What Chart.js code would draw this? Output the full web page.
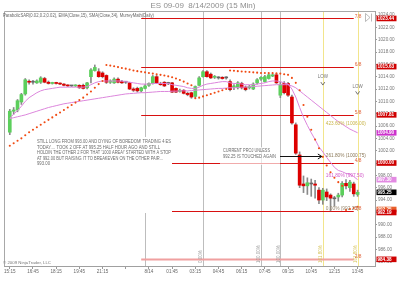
<!DOCTYPE html>
<html>
<head>
<meta charset="utf-8">
<script src="https://cdn.jsdelivr.net/npm/chart.js@4/dist/chart.umd.min.js"></script>
<style>
  html, body { margin: 0; padding: 0; background: #fff; }
  #wrap { width: 400px; height: 283px; }
</style>
</head>
<body>
<div id="wrap"><canvas id="c" width="400" height="283"></canvas></div>
<script>
// ES 09-09, 15-minute bars from 15:15 (8/13) to 13:45 (8/14)
const firstBar = '15:15';
const opens = [
  1005.0,1008.4,1008.6,1009.9,1011.2,1013.2,1013.1,1013.0,1013.1,1013.7,
  1013.1,1012.9,1013.0,1012.9,1012.8,1012.6,1012.5,1012.5,1012.6,1012.6,
  1012.2,1014.0,1015.0,1014.8,1014.6,1014.2,1013.1,1013.0,1013.6,1013.2,
  1013.1,1013.0,1012.0,1012.1,1011.7,1012.1,1012.6,1012.9,1014.0,1012.9,
  1013.1,1012.9,1013.0,1012.1,1011.6,1011.8,1011.3,1011.4,1010.8,1012.6,
  1014.0,1014.8,1014.4,1013.9,1013.8,1013.9,1013.8,1013.2,1012.3,1012.2,
  1012.9,1012.3,1012.2,1012.0,1013.0,1013.6,1013.2,1013.7,1014.1,1014.3,
  1011.0,1012.9,1012.9,1010.7,1006.2,1001.3,996.6,996.3,996.6,996.6,
  995.6,994.0,995.3,994.8,994.2,994.5,994.8,996.7,996.0,996.6,
  994.9
];
const highs = [
  1008.7,1009.0,1010.3,1011.3,1013.7,1013.5,1013.4,1013.5,1014.0,1013.9,
  1013.3,1013.1,1013.1,1013.0,1012.9,1012.7,1012.6,1012.7,1012.7,1012.8,
  1013.1,1015.3,1015.9,1015.3,1014.8,1014.3,1013.5,1013.8,1013.8,1013.4,
  1013.2,1013.1,1012.2,1012.3,1012.3,1012.7,1013.0,1014.2,1014.2,1013.1,
  1013.2,1013.1,1013.1,1012.2,1012.0,1011.9,1011.5,1011.5,1012.5,1014.0,
  1015.0,1015.0,1014.6,1014.2,1014.0,1014.0,1014.0,1013.5,1012.7,1013.2,
  1013.1,1012.5,1012.6,1013.0,1013.7,1014.0,1014.2,1014.5,1014.5,1014.5,
  1013.1,1013.2,1013.1,1011.0,1006.5,1001.8,997.9,997.6,997.4,997.2,
  996.0,995.9,995.8,995.0,994.6,995.1,997.0,997.3,997.2,996.9,
  995.6
];
const lows = [
  1004.6,1007.9,1008.3,1009.5,1011.0,1012.8,1012.8,1012.9,1012.9,1013.0,
  1012.8,1012.8,1012.8,1012.7,1012.5,1012.4,1012.4,1012.4,1012.1,1012.0,
  1012.0,1013.0,1014.9,1013.9,1013.8,1012.9,1012.9,1012.9,1013.0,1012.9,
  1012.9,1011.9,1011.6,1011.5,1011.5,1012.0,1012.4,1012.8,1012.9,1012.6,
  1012.4,1012.7,1011.4,1011.4,1011.5,1011.2,1010.9,1010.5,1010.6,1012.5,
  1013.9,1013.9,1013.7,1013.7,1013.6,1013.6,1013.6,1011.7,1011.9,1012.0,
  1012.0,1011.7,1012.0,1011.9,1012.8,1013.4,1013.1,1013.6,1014.0,1012.9,
  1010.6,1011.2,1010.8,1006.3,1001.4,996.0,995.2,994.9,994.6,994.3,
  993.4,993.3,993.9,992.25,993.0,993.8,994.5,995.8,995.4,994.6,
  994.6
];
const closes = [
  1008.4,1008.6,1010.1,1011.1,1013.5,1013.1,1013.1,1013.3,1013.8,1013.1,
  1012.9,1013.0,1012.9,1012.8,1012.6,1012.5,1012.5,1012.6,1012.2,1012.1,
  1013.0,1015.1,1015.5,1014.0,1014.0,1013.1,1013.3,1013.6,1013.1,1013.0,
  1013.1,1012.0,1011.8,1011.7,1012.2,1012.5,1012.9,1014.0,1013.0,1012.7,
  1012.5,1012.9,1011.5,1011.5,1011.8,1011.3,1011.1,1010.7,1012.4,1013.8,
  1014.8,1014.0,1013.8,1014.0,1013.8,1013.7,1013.8,1011.9,1012.5,1013.0,
  1012.2,1011.9,1012.4,1012.8,1013.5,1013.9,1014.0,1014.3,1014.3,1013.0,
  1012.7,1011.4,1011.0,1006.5,1001.6,996.4,996.3,996.8,996.6,996.4,
  994.0,995.6,994.5,994.3,994.2,994.8,996.7,996.3,996.9,995.0,
  995.25
];
// EMA(Close,15)
const emaValues = [
  1007.3,1007.9,1008.5,1009.2,1010.0,1010.6,1011.0,1011.4,1011.7,1011.9,
  1012.0,1012.1,1012.2,1012.3,1012.3,1012.3,1012.3,1012.3,1012.3,1012.3,
  1012.4,1012.7,1013.0,1013.2,1013.3,1013.3,1013.3,1013.3,1013.3,1013.3,
  1013.2,1013.1,1013.0,1012.9,1012.8,1012.8,1012.8,1012.9,1012.9,1012.9,
  1012.9,1012.9,1012.7,1012.6,1012.5,1012.4,1012.2,1012.1,1012.1,1012.3,
  1012.6,1012.8,1012.9,1013.0,1013.1,1013.2,1013.2,1013.0,1012.9,1012.9,
  1012.8,1012.7,1012.7,1012.7,1012.8,1012.9,1013.0,1013.2,1013.3,1013.3,
  1013.2,1013.0,1012.8,1012.0,1010.7,1009.0,1007.4,1006.1,1004.9,1003.8,
  1002.6,1001.8,1000.9,1000.1,999.3,998.8,998.6,998.3,998.2,997.8,
  997.3
];
// SMA(Close,34)
const smaValues = [
  1007.2,1007.35,1007.5,1007.65,1007.8,1008.0,1008.2,1008.4,1008.6,1008.8,
  1009.0,1009.15,1009.3,1009.45,1009.6,1009.7,1009.8,1009.9,1010.0,1010.1,
  1010.2,1010.3,1010.4,1010.5,1010.6,1010.7,1010.8,1010.9,1011.0,1011.1,
  1011.2,1011.25,1011.3,1011.35,1011.4,1011.4,1011.45,1011.5,1011.55,1011.6,
  1011.6,1011.6,1011.65,1011.65,1011.7,1011.7,1011.7,1011.75,1011.8,1011.85,
  1011.9,1011.95,1012.0,1012.05,1012.1,1012.1,1012.15,1012.2,1012.2,1012.25,
  1012.3,1012.3,1012.35,1012.4,1012.45,1012.5,1012.55,1012.6,1012.65,1012.7,
  1012.7,1012.7,1012.7,1012.5,1012.2,1011.7,1011.2,1010.7,1010.2,1009.7,
  1009.2,1008.7,1008.2,1007.7,1007.2,1006.7,1006.3,1005.9,1005.5,1005.2,
  1004.9
];
// ParabolicSAR(0.02,0.2,0.02)
const sarValues = [
  1002.8,1003.2,1003.6,1004.0,1004.5,1005.0,1005.4,1005.8,1006.2,1006.6,
  1007.0,1007.4,1007.8,1008.2,1008.6,1009.0,1009.4,1009.8,1010.2,1010.6,
  1011.1,1011.6,1012.2,1012.8,1013.3,1015.9,1015.8,1015.7,1015.55,1015.4,
  1015.3,1015.15,1015.0,1014.9,1014.8,1014.7,1014.6,1014.5,1014.4,1014.3,
  1014.2,1014.05,1013.9,1013.7,1013.45,1013.2,1012.9,1012.6,1010.5,1010.6,
  1010.8,1011.0,1011.2,1011.4,1011.6,1011.8,1012.0,1015.0,1014.95,1014.9,
  1014.85,1014.8,1014.75,1014.7,1014.65,1014.6,1014.6,1014.6,1014.6,1014.55,
  1014.5,1014.4,1014.3,1013.8,1013.0,1011.8,1009.4,1007.5,1005.4,1003.8,
  1002.4,1001.0,999.6,998.5,997.6,996.9,996.3,992.4,992.55,992.7,
  992.9
];

// MurreyMath(Daily) levels
const murreyLevels = [1023.44, 1015.63, 1007.81, 1000.00, 992.19, 984.38];
const murreyNames  = ['7/8', '6/8', '5/8', '4/8', '3/8', '2/8'];
const murreyFrom = '23:45', murreyTo = '13:30';

// Fibonacci price extension levels
const fibLevels = [1006.00, 1000.75, 997.50, 992.25];
const fibNames  = ['423.60%', '261.80%', '161.80%', '0.00%'];
const fibAt = '11:30';

// time markers
const dayBreak = '00:00';
const fibTimeGray = ['03:45', '07:30', '08:45'];
const fibTimeGrayNames = ['0.00%', '100.00%', '100.00%'];
const fibTimeGold = ['11:30', '13:45'];
const fibTimeGoldNames = ['161.80%', '161.80%'];

// swing low markers
const lowMarkAt = ['11:30', '13:45'];
const lowMarkPrice = [1012.8, 1011.3];

// x-axis tick labels
const tickLabels = [
  ['15:15','15:15'], ['16:45','16:45'], ['18:15','18:15'], ['19:45','19:45'],
  ['21:15','21:15'], ['22:45',''], ['00:15','8/14'], ['01:45','01:45'],
  ['03:15','03:15'], ['04:45','04:45'], ['06:15','06:15'], ['07:45','07:45'],
  ['09:15','09:15'], ['10:45','10:45'], ['12:15','12:15'], ['13:45','13:45']
];

const noteLines = [
  'STILL LONG FROM 993.00 AND DYING OF BOREDOM! TRADING 4 ES',
  'TODAY.... TOOK 2 OFF AT 995.25 HALF HOUR AGO AND STILL',
  "HOLDIN THE OTHER 2 FOR THAT '1000 AREA!' STARTED WITH A STOP",
  'AT 992.00 BUT RAISING IT TO BREAKEVEN ON THE OTHER PAIR...',
  '993.00'
];
const projLines = ['CURRENT PROJ UNLESS', '992.25 IS TOUCHED AGAIN'];

// ---- category slots: 15-minute steps from 15:00 ----
const barTimes = [];
for (let m = 15 * 60; barTimes.length < 96; m += 15) {
  const t = m % 1440;
  barTimes.push(String(Math.floor(t / 60)).padStart(2, '0') + ':' + String(t % 60).padStart(2, '0'));
}
const slot = t => barTimes.indexOf(t);
const first = slot(firstBar);
const pad = arr => barTimes.map((_, i) => (i >= first && i - first < arr.length) ? arr[i - first] : null);
const tickMap = new Map(tickLabels);

const GREEN = '#5ccf5c', RED = '#dd0000', DOJI = '#666';
const bodyColor = ctx => {
  const i = ctx.dataIndex - first;
  if (i < 0 || i >= closes.length) return DOJI;
  if (closes[i] === opens[i]) return DOJI;
  return closes[i] > opens[i] ? GREEN : RED;
};

const FONT = "'Liberation Sans', Arial, sans-serif";
Chart.defaults.font.family = FONT;

function txt(ctx, s, x, y, opts) {
  ctx.font = (opts.bold ? 'bold ' : '') + opts.size + 'px ' + FONT;
  ctx.fillStyle = opts.color;
  ctx.textAlign = opts.align || 'left';
  ctx.textBaseline = opts.base || 'middle';
  if (opts.w) ctx.fillText(s, x, y, opts.w); else ctx.fillText(s, x, y);
}

const overlay = {
  id: 'overlay',
  beforeDatasetsDraw(chart) {
    const { ctx, chartArea: a, scales: { x, y } } = chart;
    ctx.save();
    // vertical markers
    const vline = (t, col) => {
      const px = Math.round(x.getPixelForValue(slot(t))) + 0.5;
      ctx.strokeStyle = col; ctx.lineWidth = 1;
      ctx.beginPath(); ctx.moveTo(px, a.top); ctx.lineTo(px, a.bottom); ctx.stroke();
    };
    vline(dayBreak, '#bdbdbd');
    fibTimeGray.forEach(t => vline(t, '#bdbdbd'));
    fibTimeGold.forEach(t => vline(t, '#f2e58c'));
    // Murrey Math levels
    const xs = x.getPixelForValue(slot(murreyFrom));
    const xe = x.getPixelForValue(slot(murreyTo));
    murreyLevels.forEach((v, k) => {
      const py = Math.round(y.getPixelForValue(v)) + 0.5;
      const last = k === murreyLevels.length - 1;
      ctx.strokeStyle = last ? '#f0a0a0' : '#d81010';
      ctx.lineWidth = last ? 2 : 1.2;
      ctx.beginPath(); ctx.moveTo(xs, py); ctx.lineTo(xe, py); ctx.stroke();
    });
    ctx.restore();
  },
  afterDatasetsDraw(chart) {
    const { ctx, chartArea: a, scales: { x, y } } = chart;
    ctx.save();
    // trade note box
    ctx.fillStyle = '#fff';
    ctx.fillRect(35, 137, 137, 76);
    const ny = [142, 147.5, 153, 158.5, 164];
    const nw = [134, 123, 134, 126, 13];
    noteLines.forEach((s, i) => txt(ctx, s, 37, ny[i], { size: 5, color: '#6a6a6a', w: nw[i] }));

    // projection note + arrow
    ctx.fillStyle = 'rgba(255,255,255,0.65)';
    ctx.fillRect(220, 147, 60, 18);
    txt(ctx, projLines[0], 223, 151, { size: 5, color: '#6a6a6a', w: 47 });
    txt(ctx, projLines[1], 223, 156.5, { size: 5, color: '#6a6a6a', w: 53 });
    const ax0 = 280, ax1 = x.getPixelForValue(slot(fibAt)) - 1, ay = 156.5;
    ctx.strokeStyle = '#111'; ctx.lineWidth = 1;
    ctx.beginPath(); ctx.moveTo(ax0, ay); ctx.lineTo(ax1, ay); ctx.stroke();
    ctx.beginPath(); ctx.moveTo(ax1 - 4, ay - 2.5); ctx.lineTo(ax1, ay); ctx.lineTo(ax1 - 4, ay + 2.5); ctx.stroke();

    // Fibonacci extension labels
    const fx = x.getPixelForValue(slot(fibAt)) + 3;
    const fibCols = ['#c8b44a', '#8c7a5a', '#d25ac8', '#9a8a70'];
    fibLevels.forEach((v, k) => {
      txt(ctx, fibNames[k] + ' (' + v.toFixed(2) + ')', fx, y.getPixelForValue(v) - 2.5,
          { size: 4.8, color: fibCols[k], w: 40 });
    });

    // LOW markers
    lowMarkAt.forEach((t, k) => {
      const px = x.getPixelForValue(slot(t));
      const py = y.getPixelForValue(lowMarkPrice[k]);
      txt(ctx, 'LOW', px, py - 7, { size: 4.5, color: '#777', align: 'center' });
      ctx.strokeStyle = '#555'; ctx.lineWidth = 0.8;
      ctx.beginPath(); ctx.moveTo(px - 2, py - 2); ctx.lineTo(px, py + 1); ctx.lineTo(px + 2, py - 2); ctx.stroke();
    });

    // Murrey labels
    const lx = x.getPixelForValue(slot(murreyTo)) + 1;
    murreyLevels.forEach((v, k) => {
      txt(ctx, murreyNames[k], lx, y.getPixelForValue(v) - 2.2, { size: 4.8, color: '#e0643c' });
    });

    // rotated time-zone labels
    const rot = (t, s, col) => {
      const px = x.getPixelForValue(slot(t)) - 2;
      ctx.save(); ctx.translate(px, a.bottom - 3); ctx.rotate(-Math.PI / 2);
      txt(ctx, s, 0, 0, { size: 4.5, color: col });
      ctx.restore();
    };
    fibTimeGray.forEach((t, k) => rot(t, fibTimeGrayNames[k], '#999'));
    fibTimeGold.forEach((t, k) => rot(t, fibTimeGoldNames[k], '#d6c35a'));
    ctx.restore();
  },
  afterDraw(chart) {
    const { ctx, chartArea: a, scales: { y } } = chart;
    ctx.save();
    // frame (top and left edges)
    ctx.strokeStyle = '#a8a8a8'; ctx.lineWidth = 1;
    ctx.beginPath();
    ctx.moveTo(a.left + 0.5, a.bottom); ctx.lineTo(a.left + 0.5, a.top + 0.5); ctx.lineTo(a.right, a.top + 0.5);
    ctx.stroke();

    // title, indicator list, copyright
    txt(ctx, 'ES 09-09  8/14/2009 (15 Min)', 203, 6, { size: 8, color: '#8e8e8e', align: 'center' });
    txt(ctx, 'ParabolicSAR(0.02,0.2,0.02), EMA(Close,15), SMA(Close,34), MurreyMath(Daily)', 3, 15.5,
        { size: 4.6, color: '#666', w: 151 });
    txt(ctx, '\u00a9 2009 NinjaTrader, LLC', 3, 263, { size: 4.4, color: '#777', w: 48 });

    // go-to-end button
    ctx.strokeStyle = '#aaa'; ctx.lineWidth = 0.8;
    ctx.beginPath(); ctx.moveTo(365.5, 13.5); ctx.lineTo(370, 17.5); ctx.lineTo(365.5, 21.5); ctx.closePath(); ctx.stroke();
    ctx.beginPath(); ctx.moveTo(371.5, 13.5); ctx.lineTo(371.5, 21.5); ctx.stroke();

    // price badges on the axis
    const badges = murreyLevels.map(v => ({ v, bg: '#cf0000', fg: '#fff' }));
    badges.push({ v: smaValues[smaValues.length - 1], bg: '#cc33cc', fg: '#fff' });
    badges.push({ v: emaValues[emaValues.length - 1], bg: '#e28ae2', fg: '#fff' });
    badges.push({ v: closes[closes.length - 1], bg: '#000', fg: '#fff' });
    badges.push({ v: fibLevels[fibLevels.length - 1], bg: '#e8602c', fg: '#fff' });
    badges.forEach(b => { b.py = y.getPixelForValue(b.v); });
    badges.sort((p, q) => p.py - q.py);
    for (let i = 1; i < badges.length; i++) {
      const d = badges[i].py - badges[i - 1].py;
      if (d < 3) { const m = (badges[i].py + badges[i - 1].py) / 2; badges[i - 1].py = m - 1.5; badges[i].py = m + 1.5; }
    }
    badges.forEach(b => {
      ctx.fillStyle = b.bg;
      ctx.fillRect(376.5, b.py - 2.8, 20, 5.6);
      txt(ctx, b.v.toFixed(2), 377.5, b.py + 0.2, { size: 4.6, color: b.fg, bold: true, w: 18 });
    });
    ctx.restore();
  }
};

new Chart(document.getElementById('c'), {
  type: 'bar',
  data: {
    labels: barTimes,
    datasets: [
      { type: 'line', label: 'ParabolicSAR', data: pad(sarValues), showLine: false,
        pointRadius: 1.05, pointBackgroundColor: '#f04a12', pointBorderWidth: 0, order: 0 },
      { type: 'line', label: 'EMA(Close,15)', data: pad(emaValues), borderColor: '#dc86dc',
        borderWidth: 1, pointRadius: 0, tension: 0, order: 1 },
      { type: 'line', label: 'SMA(Close,34)', data: pad(smaValues), borderColor: '#dc86dc',
        borderWidth: 1, pointRadius: 0, tension: 0, order: 1 },
      { type: 'bar', label: 'Body', data: pad(opens.map((o, i) => [o, closes[i]])),
        backgroundColor: bodyColor, barThickness: 3, minBarLength: 1, grouped: false, order: 2 },
      { type: 'bar', label: 'Range', data: pad(lows.map((l, i) => [l, highs[i]])),
        backgroundColor: '#8a8a8a', barThickness: 1, grouped: false, order: 3 }
    ]
  },
  options: {
    responsive: false,
    animation: false,
    devicePixelRatio: 1,
    layout: { padding: { top: 11, left: 1, right: 0, bottom: 0 } },
    plugins: { legend: { display: false }, tooltip: { enabled: false }, title: { display: false } },
    scales: {
      x: {
        type: 'category',
        offset: true,
        grid: { display: true, drawOnChartArea: false, drawTicks: true, tickLength: 3, offset: false, color: '#999' },
        border: { color: '#a0a0a0' },
        ticks: {
          autoSkip: false, maxRotation: 0, minRotation: 0, padding: 0,
          font: { size: 4.6, family: FONT }, color: '#666',
          callback: function (v) { const t = this.getLabelForValue(v); return tickMap.has(t) ? tickMap.get(t) : null; }
        },
        afterFit: s => { s.height = 17; }
      },
      y: {
        position: 'right',
        min: 983.3, max: 1024.65,
        grid: { drawOnChartArea: false, drawTicks: true, tickLength: 2, color: '#999' },
        border: { color: '#a0a0a0' },
        ticks: {
          stepSize: 2, includeBounds: false, padding: 1,
          font: { size: 4.6, family: FONT }, color: '#777',
          callback: v => v.toFixed(2)
        },
        afterFit: s => { s.width = 25; }
      }
    }
  },
  plugins: [overlay]
});
</script>
</body>
</html>
